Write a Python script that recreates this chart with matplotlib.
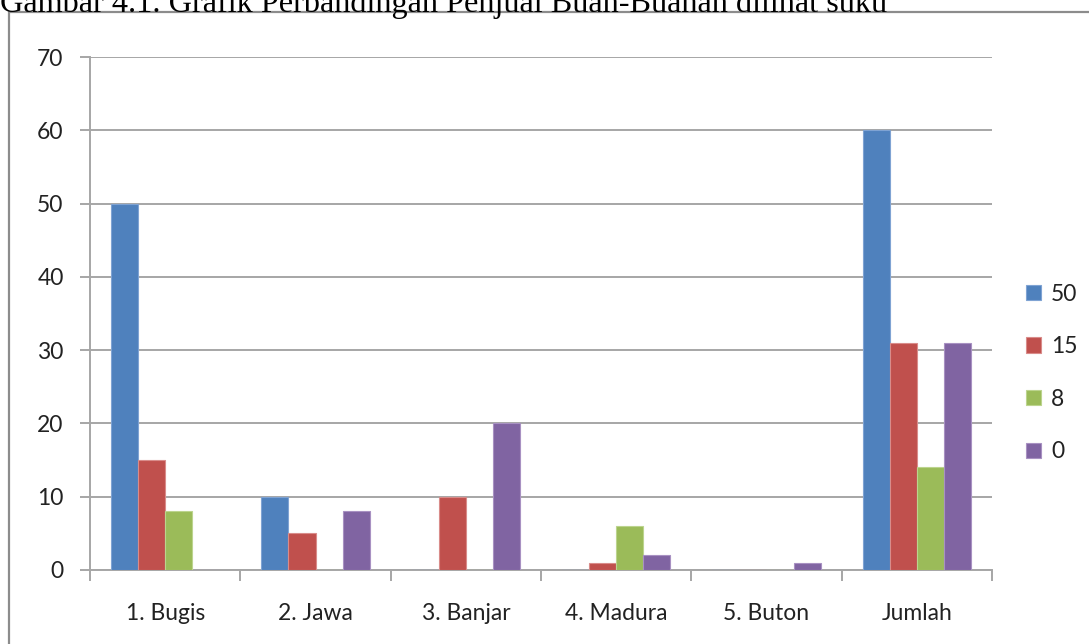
import numpy as np
import matplotlib.pyplot as plt
from matplotlib.patches import Rectangle

# data
categories = ['1. Bugis', '2. Jawa', '3. Banjar', '4. Madura', '5. Buton', 'Jumlah']
series_names = ['50', '15', '8', '0']
s50 = [50, 10, 0, 0, 0, 60]
s15 = [15, 5, 10, 1, 0, 31]
s8 = [8, 0, 0, 6, 0, 14]
s0 = [0, 8, 20, 2, 1, 31]
colors = ['#4F81BD', '#C0504D', '#9BBB59', '#8064A2']
edges = ['#7FA3D3', '#D98C8A', '#BCD48E', '#A891C2']

fig = plt.figure(figsize=(10.89, 6.44), dpi=100)
W, H = 1089, 644

# outer chart border (cut off at right/bottom)
fig.patches.append(Rectangle((9 / W, -0.1), 1.2, 1 - 12 / H + 0.1, transform=fig.transFigure,
                             fill=False, edgecolor='#8C8C8C', linewidth=1.6, zorder=0))

# caption partly cut at top
fig.text(0, 1 - 12 / H, 'Gambar 4.1. Grafik Perbandingan Penjual Buah-Buahan dilihat suku',
         family='Liberation Serif', fontsize=23.2, va='baseline', ha='left', color='black')

ax = fig.add_axes([90 / W, 1 - 570 / H, (992 - 90) / W, (570 - 57) / H])
x = np.arange(len(categories))
bw = 0.18
for i, vals in enumerate([s50, s15, s8, s0]):
    ax.bar(x + (i - 1.5) * bw, vals, bw, color=colors[i], edgecolor=edges[i],
           linewidth=0.8, label=series_names[i], zorder=3)

ax.set_xlim(-0.5, len(categories) - 0.5)
ax.set_ylim(0, 70)
ax.set_yticks(range(0, 71, 10))
ax.yaxis.grid(True, color='#A6A6A6', linewidth=1.4, zorder=0)
ax.set_axisbelow(True)

font = 'Lato'
fs = 16.5
ax.set_xticks(x)
ax.set_xticklabels(categories, family=font, fontsize=fs, color='#222222')
ax.set_xticks(np.arange(-0.5, len(categories)), minor=True)
ax.tick_params(axis='x', which='major', length=0, pad=24)
ax.tick_params(axis='x', which='minor', length=8, color='#A6A6A6', width=1.4, direction='out')
ax.tick_params(axis='y', length=7, color='#A6A6A6', width=1.4, pad=12, labelsize=fs,
               labelcolor='#222222')
for lbl in ax.get_yticklabels():
    lbl.set_family(font)

for s in ['top', 'right']:
    ax.spines[s].set_visible(False)
for s in ['left', 'bottom']:
    ax.spines[s].set_color('#A6A6A6')
    ax.spines[s].set_linewidth(1.4)

leg = ax.legend(loc='center left', bbox_to_anchor=(1026 / W, 1 - 373 / H),
                bbox_transform=fig.transFigure, frameon=False, prop={'family': font, 'size': fs},
                handlelength=0.65, handleheight=0.65, handletextpad=0.45,
                labelspacing=1.38, borderpad=0, borderaxespad=0)
for t in leg.get_texts():
    t.set_color('#222222')

fig.savefig('out.png', dpi=100)
